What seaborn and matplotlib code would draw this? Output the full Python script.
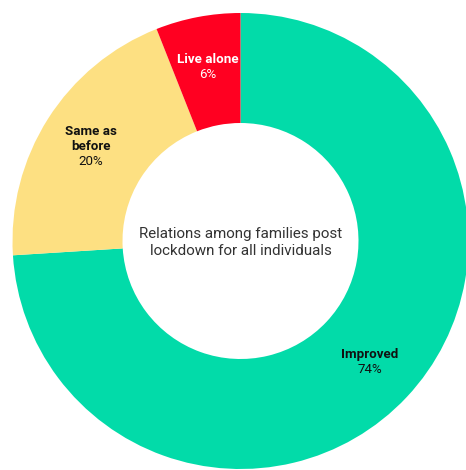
import numpy as np
import matplotlib
matplotlib.use("Agg")
import matplotlib.pyplot as plt
import seaborn as sns

# Relations among families after lockdown, share of all individuals
categories = ["Improved", "Same as\nbefore", "Live alone"]
shares = [74, 20, 6]
pct_labels = ["74%", "20%", "6%"]
colors = ["#02dba9", "#fde082", "#ff0021"]
label_colors = ["#111111", "#111111", "#ffffff"]
center_title = "Relations among families post\nlockdown for all individuals"

sns.set_theme(style="white")
plt.rcParams["font.family"] = ["Roboto", "DejaVu Sans"]

W, H = 466, 470
fig = plt.figure(figsize=(W / 100, H / 100), dpi=100)
ax = fig.add_axes([0, 0, 1, 1])

cx, cy = 240.5, H - 241
R_out, R_in = 228, 118
ring = (R_out - R_in) / R_out

wedges, _ = ax.pie(
    shares,
    colors=colors,
    startangle=90,
    counterclock=False,
    radius=R_out,
    center=(cx, cy),
    wedgeprops=dict(width=R_out * ring, linewidth=0),
    frame=True,
)
ax.set_xlim(0, W)
ax.set_ylim(0, H)
ax.set_aspect("equal")
ax.axis("off")

r_lab = 177
line_px = 15
for w, name, pct, tc in zip(wedges, categories, pct_labels, label_colors):
    mid = np.deg2rad((w.theta1 + w.theta2) / 2)
    x = cx + r_lab * np.cos(mid)
    y = cy + r_lab * np.sin(mid)
    lines = name.split("\n") + [pct]
    n = len(lines)
    for i, line in enumerate(lines):
        yy = y + (n - 1) / 2 * line_px - i * line_px
        ax.text(x, yy, line, ha="center", va="center", color=tc,
                fontsize=9.6, fontweight="bold" if i < n - 1 else "normal")

ax.text(cx, H - 242.5, center_title, ha="center", va="center",
        color="#333333", fontsize=10.9, linespacing=1.3)

fig.savefig("out.png", dpi=100)
